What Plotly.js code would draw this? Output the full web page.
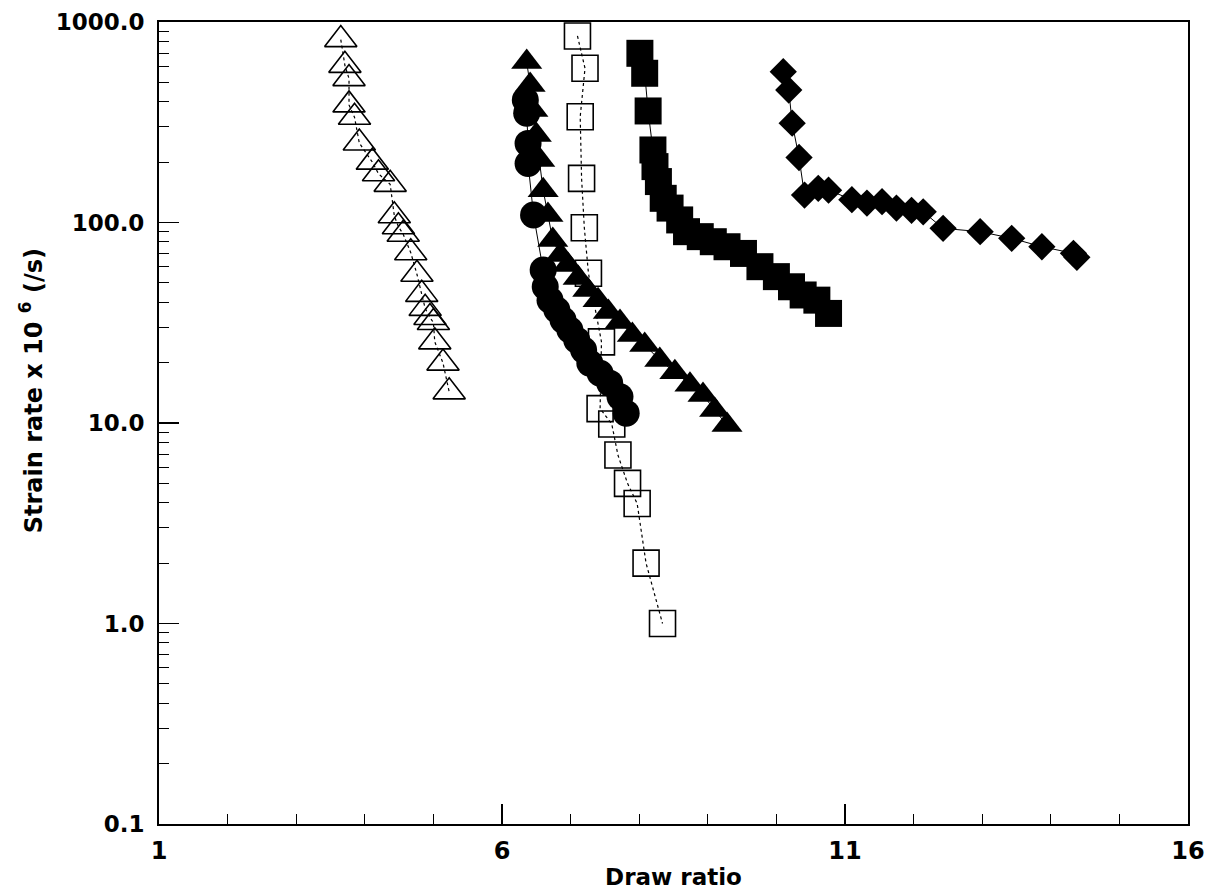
<!DOCTYPE html>
<html>
<head>
<meta charset="utf-8">
<script src="https://cdn.plot.ly/plotly-3.0.1.min.js"></script>
<style>html,body{margin:0;padding:0;background:#fff;}#chart{width:1214px;height:895px;}</style>
</head>
<body>
<div id="chart"></div>
<script>
// Draw ratio (x) and strain rate x 10^6 (/s) (y) for each series
const openTriX = [3.65, 3.71, 3.77, 3.77, 3.85, 3.92, 4.11, 4.20, 4.37, 4.43, 4.49, 4.56, 4.67, 4.76, 4.83, 4.88, 4.95, 5.00, 5.02, 5.14, 5.23];
const openTriY = [817, 608, 522, 386, 335, 249, 200, 175, 155, 108, 95.3, 87.4, 70.7, 55.2, 43.8, 37.3, 33.6, 31.7, 25.4, 19.9, 14.3];

const fillTriX = [6.36, 6.41, 6.45, 6.50, 6.55, 6.60, 6.67, 6.74, 6.85, 6.96, 7.11, 7.25, 7.40, 7.55, 7.72, 7.90, 8.08, 8.30, 8.52, 8.74, 8.93, 9.10, 9.28];
const fillTriY = [631, 485, 364, 273, 205, 145, 109, 81.8, 68.8, 61.4, 52.9, 46.0, 41.0, 35.8, 31.9, 27.5, 24.5, 20.6, 17.9, 15.5, 13.8, 11.6, 9.77];

const circleX = [6.34, 6.36, 6.38, 6.38, 6.46, 6.60, 6.63, 6.70, 6.80, 6.89, 6.99, 7.09, 7.19, 7.28, 7.43, 7.57, 7.72, 7.81];
const circleY = [408, 351, 248, 197, 109, 58, 47.8, 41, 36.6, 32.6, 29.1, 25.9, 23.1, 19.9, 17.7, 15.8, 13.5, 11.2];

const openSqX = [7.10, 7.21, 7.14, 7.16, 7.20, 7.26, 7.45, 7.43, 7.60, 7.69, 7.83, 7.97, 8.10, 8.34];
const openSqY = [852, 588, 337, 166, 94.2, 55.8, 25.4, 11.8, 9.89, 6.92, 5.0, 3.97, 2.0, 1.0];

const fillSqX = [8.01, 8.08, 8.13, 8.20, 8.23, 8.28, 8.35, 8.45, 8.59, 8.69, 8.89, 9.08, 9.28, 9.52, 9.76, 10.00, 10.22, 10.39, 10.59, 10.76];
const fillSqY = [698, 555, 360, 230, 190, 160, 132, 118, 103, 90, 85, 80.2, 75.7, 70.1, 60.2, 53.7, 47.8, 43.5, 41.0, 35.2];

const diamondX = [10.10, 10.18, 10.23, 10.33, 10.41, 10.61, 10.76, 11.10, 11.32, 11.54, 11.75, 11.97, 12.14, 12.43, 12.97, 13.43, 13.87, 14.33, 14.38];
const diamondY = [565, 458, 313, 211, 137, 148, 145, 130, 125, 127, 118, 115, 113, 93.5, 90, 83.4, 75.7, 70.2, 67];

const xTickVals = [1, 6, 11, 16];
const yTickVals = [0.1, 1, 10, 100, 1000];
const yTickText = ['0.1', '1.0', '10.0', '100.0', '1000.0'];

const traces = [
  {x: openSqX, y: openSqY, mode: 'lines+markers', line: {color: 'black', width: 1.2, dash: 'dot'},
   marker: {symbol: 'square-open', size: 26, color: 'black', line: {width: 1.6}}},
  {x: circleX, y: circleY, mode: 'lines+markers', line: {color: 'black', width: 1},
   marker: {symbol: 'circle', size: 27, color: 'black'}},
  {x: fillTriX, y: fillTriY, mode: 'lines+markers', line: {color: 'black', width: 1},
   marker: {symbol: 'triangle-up', size: 27, color: 'black'}},
  {x: fillSqX, y: fillSqY, mode: 'lines+markers', line: {color: 'black', width: 1},
   marker: {symbol: 'square', size: 27, color: 'black'}},
  {x: diamondX, y: diamondY, mode: 'lines+markers', line: {color: 'black', width: 1},
   marker: {symbol: 'diamond', size: 21, color: 'black'}},
  {x: openTriX, y: openTriY, mode: 'lines+markers', line: {color: 'black', width: 1.2, dash: 'dot'},
   marker: {symbol: 'triangle-up-open', size: 28, color: 'black', line: {width: 1.6}}}
];

const layout = {
  width: 1214, height: 895,
  margin: {l: 159, r: 26, t: 22, b: 71},
  paper_bgcolor: 'white', plot_bgcolor: 'white',
  showlegend: false,
  font: {family: 'DejaVu Sans', color: 'black'},
  xaxis: {
    range: [1, 16], showgrid: false, zeroline: false,
    showline: true, mirror: true, linecolor: 'black', linewidth: 2,
    ticks: 'inside', ticklen: 20, tickwidth: 1.5, tickcolor: 'black',
    tickvals: xTickVals, ticktext: xTickVals.map(String),
    tickfont: {family: 'DejaVu Sans', size: 24, weight: 'bold'},
    ticklabelstandoff: 4,
    minor: {dtick: 1, tick0: 1, ticks: 'inside', ticklen: 10, tickwidth: 1, tickcolor: 'black', showgrid: false},
    title: {text: 'Draw ratio', font: {family: 'DejaVu Sans', size: 23, weight: 'bold'}, standoff: 5}
  },
  yaxis: {
    type: 'log', range: [-1, 3], showgrid: false, zeroline: false,
    showline: true, mirror: true, linecolor: 'black', linewidth: 2,
    ticks: 'inside', ticklen: 20, tickwidth: 1.5, tickcolor: 'black',
    tickvals: yTickVals, ticktext: yTickText,
    tickfont: {family: 'DejaVu Sans', size: 23, weight: 'bold'},
    ticklabelstandoff: 8,
    minor: {dtick: 'D1', ticks: 'inside', ticklen: 10, tickwidth: 1, tickcolor: 'black', showgrid: false}
  },
  annotations: [{
    text: 'Strain rate x 10 <sup>6</sup> (/s)', textangle: -90,
    xref: 'paper', yref: 'paper', x: -0.124, y: 0.54, xanchor: 'center', yanchor: 'middle',
    showarrow: false, font: {family: 'DejaVu Sans', size: 24, weight: 'bold'}
  }]
};

Plotly.newPlot('chart', traces, layout, {displayModeBar: false, staticPlot: true});
</script>
</body>
</html>
